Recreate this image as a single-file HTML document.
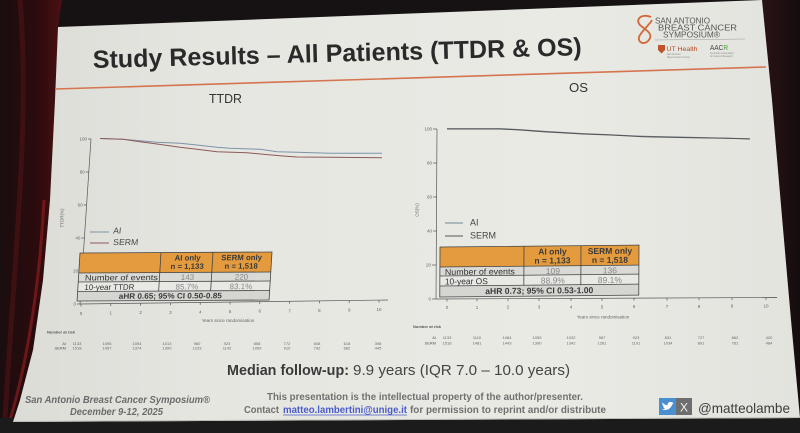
<!DOCTYPE html>
<html><head><meta charset="utf-8"><style>
html,body{margin:0;padding:0;background:#161113;overflow:hidden;width:800px;height:433px}
svg{display:block}
text{font-family:"Liberation Sans",Arial,sans-serif}
</style></head><body>
<svg width="800" height="433" viewBox="0 0 800 433" xmlns="http://www.w3.org/2000/svg">
<defs>
<linearGradient id="sl" x1="0" y1="0" x2="1" y2="0">
<stop offset="0" stop-color="#dcdcd7"/><stop offset="0.25" stop-color="#e6e6e1"/><stop offset="0.7" stop-color="#eaeae5"/><stop offset="1" stop-color="#e3e3de"/></linearGradient>
<linearGradient id="cl" x1="0" y1="0" x2="1" y2="0">
<stop offset="0" stop-color="#1a0d0f"/><stop offset="0.6" stop-color="#2c0b0d"/><stop offset="1" stop-color="#4a1012"/></linearGradient>
<linearGradient id="cr" x1="0" y1="0" x2="1" y2="0">
<stop offset="0" stop-color="#2a1214"/><stop offset="1" stop-color="#140d0e"/></linearGradient>
</defs>
<rect width="800" height="433" fill="#161113"/>
<path d="M0,0 L62,0 L58,27 L55,100 L50,200 L43,280 L33,350 L20,400 L13,422 L0,426 Z" fill="url(#cl)"/>
<path d="M20,0 C30,120 15,250 4,433" stroke="#4a1214" stroke-width="5" fill="none" opacity="0.7"/>
<path d="M44,200 C40,280 28,360 10,420" stroke="#8a1c1c" stroke-width="3" fill="none" opacity="0.7"/>
<path d="M762,0 L800,0 L800,419 L791,320 L782,217 L772,100 Z" fill="url(#cr)"/>
<rect x="0" y="418" width="800" height="15" fill="#1c1b1b"/>
<polygon points="58,27 762,0 772,100 782,217 791,320 800,418 13,422 20,400 33,350 43,280 50,200 55,100" fill="url(#sl)"/>
<line x1="13" y1="421.5" x2="800" y2="417.5" stroke="#bdbdb8" stroke-width="1"/>

<!-- Title -->
<text x="93" y="68" font-size="25" font-weight="bold" fill="#2a2a2a" textLength="489" lengthAdjust="spacingAndGlyphs" transform="rotate(-1.5 93 68)">Study Results – All Patients (TTDR &amp; OS)</text>
<line x1="55" y1="89" x2="766" y2="67" stroke="#d4754f" stroke-width="1.6"/>

<!-- Logo -->
<path d="M651,17 C641,13 634,20 641,26 C648,31 654,35 648,41 C643,46 636,41 640,35 C643,30 650,24 652,20" stroke="#d2683a" stroke-width="1.8" fill="none"/>
<text x="655" y="23.5" font-size="8.5" fill="#555" textLength="55" lengthAdjust="spacingAndGlyphs">SAN ANTONIO</text>
<text x="658" y="30.5" font-size="8.5" fill="#555" textLength="79" lengthAdjust="spacingAndGlyphs">BREAST CANCER</text>
<text x="663" y="37.5" font-size="8.5" fill="#555" textLength="57" lengthAdjust="spacingAndGlyphs">SYMPOSIUM®</text>
<line x1="655" y1="40" x2="745" y2="39" stroke="#999" stroke-width="0.6"/>
<path d="M658,45 L665,45 L665,50 L661.5,53.5 L658,50 Z" fill="#c0532a"/>
<text x="666.5" y="51" font-size="6" fill="#b84a25" font-family="Liberation Serif,serif" textLength="31" lengthAdjust="spacingAndGlyphs">UT Health</text>
<text x="667" y="55" font-size="2.5" fill="#888">San Antonio</text>
<text x="667" y="58" font-size="2.5" fill="#888">Mays Cancer Center</text>
<text x="710" y="50" font-size="7" fill="#444" textLength="18" lengthAdjust="spacingAndGlyphs">AAC<tspan fill="#4a9a3a">R</tspan></text>
<text x="710" y="54" font-size="2.5" fill="#888">American Association</text>
<text x="710" y="57" font-size="2.5" fill="#888">for Cancer Research</text>

<!-- Chart titles -->
<text x="209" y="103" font-size="12.5" fill="#333" textLength="33" lengthAdjust="spacingAndGlyphs">TTDR</text>
<text x="569" y="92" font-size="13" fill="#333" textLength="19" lengthAdjust="spacingAndGlyphs">OS</text>

<!-- LEFT CHART -->
<g stroke="#555" stroke-width="0.7" fill="none">
<line x1="91" y1="139" x2="80" y2="304"/>
<line x1="80" y1="304" x2="388" y2="300"/>
<line x1="88" y1="139" x2="91" y2="139"/>
<line x1="85.8" y1="172" x2="88.8" y2="172"/>
<line x1="83.6" y1="205" x2="86.6" y2="205"/>
<line x1="81.4" y1="238" x2="84.4" y2="238"/>
<line x1="79.2" y1="271" x2="82.2" y2="271"/>
<line x1="77" y1="304" x2="80" y2="304"/>
<line x1="81" y1="304" x2="81" y2="306.5"/>
<line x1="110.8" y1="303.6" x2="110.8" y2="306"/>
<line x1="140.6" y1="303.2" x2="140.6" y2="305.7"/>
<line x1="170.4" y1="302.8" x2="170.4" y2="305.3"/>
<line x1="200.2" y1="302.4" x2="200.2" y2="304.9"/>
<line x1="230" y1="302" x2="230" y2="304.5"/>
<line x1="259.8" y1="301.6" x2="259.8" y2="304.1"/>
<line x1="289.6" y1="301.3" x2="289.6" y2="303.8"/>
<line x1="319.4" y1="300.9" x2="319.4" y2="303.4"/>
<line x1="349.2" y1="300.5" x2="349.2" y2="303"/>
<line x1="379" y1="300.1" x2="379" y2="302.6"/>
</g>
<g font-size="4.5" fill="#666" text-anchor="end">
<text x="87" y="140.5">100</text><text x="84.8" y="173.5">80</text><text x="82.6" y="206.5">60</text>
<text x="80.4" y="239.5">40</text><text x="78.2" y="272.5">20</text><text x="76" y="305.5">0</text>
</g>
<g font-size="4.5" fill="#666" text-anchor="middle">
<text x="81" y="315">0</text><text x="110.8" y="314.6">1</text><text x="140.6" y="314.2">2</text>
<text x="170.4" y="313.8">3</text><text x="200.2" y="313.4">4</text><text x="230" y="313">5</text>
<text x="259.8" y="312.6">6</text><text x="289.6" y="312.3">7</text><text x="319.4" y="311.9">8</text>
<text x="349.2" y="311.5">9</text><text x="379" y="311.1">10</text>
<text x="228" y="322">Years since randomisation</text>
<text transform="translate(63.5,218) rotate(-90)">TTDR(%)</text>
</g>
<polyline fill="none" stroke="#7d93a8" stroke-width="1" points="100,138.5 123,139.3 140,140.7 157,142.3 180,143.3 197,145 217,147.3 230,148.3 260,149.3 277,151.7 297,152.3 330,153.3 382,153.3"/>
<polyline fill="none" stroke="#8d5a5a" stroke-width="1" points="100,138.5 123,139.3 140,141.7 157,144 180,147.3 203,150 217,151.7 247,152.7 263,154.3 283,156 297,157 330,157.3 382,157.7"/>
<!-- left legend -->
<line x1="90" y1="232" x2="109" y2="232" stroke="#7d93a8" stroke-width="1"/>
<line x1="90" y1="243" x2="109" y2="243" stroke="#8d5a5a" stroke-width="1"/>
<text x="113" y="233.5" font-size="8.5" fill="#444" transform="skewX(-6) translate(24.5,0)">AI</text>
<text x="113" y="245" font-size="8.5" fill="#444" textLength="25" lengthAdjust="spacingAndGlyphs" transform="skewX(-6) translate(25.7,0)">SERM</text>
<!-- left table -->
<g transform="translate(80,253) rotate(-0.3) skewX(-3.8)">
<rect x="0" y="0" width="192" height="20" fill="#e49b3e"/>
<rect x="0" y="20" width="192" height="9" fill="#d9d9d5"/>
<rect x="0" y="29" width="192" height="9.5" fill="#e8e8e4"/>
<rect x="0" y="38.5" width="192" height="9.5" fill="#d5d5d1"/>
<g stroke="#444" stroke-width="0.8" fill="none">
<rect x="0" y="0" width="192" height="48"/>
<line x1="0" y1="20" x2="192" y2="20"/><line x1="0" y1="29" x2="192" y2="29"/><line x1="0" y1="38.5" x2="192" y2="38.5"/>
<line x1="81" y1="0" x2="81" y2="38.5"/><line x1="133" y1="0" x2="133" y2="38.5"/>
</g>
<g font-size="7.8" fill="#3a3a3a" text-anchor="middle" font-weight="bold">
<text x="108" y="8">AI only</text><text x="108" y="16.5">n = 1,133</text>
<text x="162" y="8">SERM only</text><text x="162" y="16.5">n = 1,518</text>
<text x="93" y="46" textLength="103" lengthAdjust="spacingAndGlyphs">aHR 0.65; 95% CI 0.50-0.85</text>
</g>
<g font-size="8" fill="#333">
<text x="6.5" y="27.5" textLength="73" lengthAdjust="spacingAndGlyphs">Number of events</text>
<text x="6.5" y="37" textLength="50" lengthAdjust="spacingAndGlyphs">10-year TTDR</text>
</g>
<g font-size="8" fill="#888" text-anchor="middle">
<text x="109" y="27.5">143</text><text x="163" y="27.5">220</text>
<text x="109" y="37">85.7%</text><text x="163" y="37">83.1%</text>
</g>
</g>
<!-- left number at risk -->
<g font-size="4" fill="#555">
<text x="47" y="333.5" font-weight="bold">Number at risk</text>
<text x="66" y="345" text-anchor="end">AI</text><text x="66" y="349.5" text-anchor="end">SERM</text>
</g>
<g font-size="4" fill="#666" text-anchor="middle">
<text x="77" y="345">1133</text><text x="107" y="345">1095</text><text x="137" y="345">1054</text><text x="167" y="345">1013</text><text x="197" y="345">980</text><text x="227" y="345">923</text><text x="257" y="345">858</text><text x="287" y="345">772</text><text x="317" y="345">608</text><text x="347" y="345">618</text><text x="378" y="345">398</text>
<text x="77" y="349.5">1518</text><text x="107" y="349.5">1457</text><text x="137" y="349.5">1374</text><text x="167" y="349.5">1300</text><text x="197" y="349.5">1233</text><text x="227" y="349.5">1142</text><text x="257" y="349.5">1059</text><text x="287" y="349.5">910</text><text x="317" y="349.5">792</text><text x="347" y="349.5">682</text><text x="378" y="349.5">445</text>
</g>

<!-- RIGHT CHART -->
<g stroke="#555" stroke-width="0.7" fill="none">
<line x1="437" y1="129" x2="436" y2="299"/>
<line x1="436" y1="299" x2="777" y2="297.5"/>
<line x1="433" y1="129" x2="437" y2="129"/><line x1="433" y1="163" x2="437" y2="163"/>
<line x1="433" y1="197" x2="437" y2="197"/><line x1="433" y1="231" x2="437" y2="231"/>
<line x1="432" y1="265" x2="436" y2="265"/><line x1="432" y1="299" x2="436" y2="299"/>
<line x1="447" y1="299" x2="447" y2="301.5"/><line x1="477" y1="298.8" x2="477" y2="301.3"/>
<line x1="508" y1="298.7" x2="508" y2="301.2"/><line x1="539" y1="298.5" x2="539" y2="301"/>
<line x1="571" y1="298.4" x2="571" y2="300.9"/><line x1="602" y1="298.3" x2="602" y2="300.8"/>
<line x1="634" y1="298.1" x2="634" y2="300.6"/><line x1="667" y1="298" x2="667" y2="300.5"/>
<line x1="699" y1="297.8" x2="699" y2="300.3"/><line x1="732" y1="297.7" x2="732" y2="300.2"/>
<line x1="766" y1="297.5" x2="766" y2="300"/>
</g>
<g font-size="4.5" fill="#666" text-anchor="end">
<text x="432" y="130.5">100</text><text x="432" y="164.5">80</text><text x="432" y="198.5">60</text>
<text x="432" y="232.5">40</text><text x="431" y="266.5">20</text><text x="431" y="300.5">0</text>
</g>
<g font-size="4.5" fill="#666" text-anchor="middle">
<text x="447" y="309">0</text><text x="477" y="308.8">1</text><text x="508" y="308.7">2</text>
<text x="539" y="308.5">3</text><text x="571" y="308.4">4</text><text x="602" y="308.3">5</text>
<text x="634" y="308.1">6</text><text x="667" y="308">7</text><text x="699" y="307.8">8</text>
<text x="732" y="307.7">9</text><text x="766" y="307.5">10</text>
<text x="603" y="318.5">Years since randomisation</text>
<text transform="translate(418.5,210) rotate(-90)">OS(%)</text>
</g>
<polyline fill="none" stroke="#6d7c88" stroke-width="1" points="447,128.6 500,128.6 520,129.6 543,131.2 583,133.6 610,134.7 630,135.8 643,136.3 693,137.4 727,138.2 750,138.8"/>
<polyline fill="none" stroke="#555" stroke-width="1" points="447,129 500,129 520,130 543,131.7 583,134 610,135 630,136 643,136.7 693,137.7 727,138.3 750,139"/>
<!-- right legend -->
<line x1="445" y1="223" x2="463" y2="223" stroke="#6d8a99" stroke-width="1"/>
<line x1="445" y1="236" x2="463" y2="236" stroke="#555" stroke-width="1"/>
<text x="470" y="225.5" font-size="9" fill="#444">AI</text>
<text x="470" y="238.5" font-size="9" fill="#444" textLength="26" lengthAdjust="spacingAndGlyphs">SERM</text>
<!-- right table -->
<g transform="translate(440,247) rotate(-0.55) skewX(-0.8)">
<rect x="0" y="0" width="199" height="20" fill="#e49b3e"/>
<rect x="0" y="20" width="199" height="9" fill="#d9d9d5"/>
<rect x="0" y="29" width="199" height="10" fill="#e8e8e4"/>
<rect x="0" y="39" width="199" height="11" fill="#d5d5d1"/>
<g stroke="#444" stroke-width="0.8" fill="none">
<rect x="0" y="0" width="199" height="50"/>
<line x1="0" y1="20" x2="199" y2="20"/><line x1="0" y1="29" x2="199" y2="29"/><line x1="0" y1="39" x2="199" y2="39"/>
<line x1="84" y1="0" x2="84" y2="39"/><line x1="141" y1="0" x2="141" y2="39"/>
</g>
<g font-size="8.5" fill="#3a3a3a" text-anchor="middle" font-weight="bold">
<text x="112.5" y="8.5">AI only</text><text x="112.5" y="17.5">n = 1,133</text>
<text x="170" y="8.5">SERM only</text><text x="170" y="17.5">n = 1,518</text>
<text x="99.5" y="47.5" textLength="108" lengthAdjust="spacingAndGlyphs">aHR 0.73; 95% CI 0.53-1.00</text>
</g>
<g font-size="8.5" fill="#333">
<text x="5" y="28" textLength="70" lengthAdjust="spacingAndGlyphs">Number of events</text>
<text x="5" y="37.5" textLength="43" lengthAdjust="spacingAndGlyphs">10-year OS</text>
</g>
<g font-size="8.5" fill="#888" text-anchor="middle">
<text x="113" y="28">109</text><text x="170" y="28">136</text>
<text x="113" y="37.5">88.9%</text><text x="170" y="37.5">89.1%</text>
</g>
</g>
<!-- right number at risk -->
<g font-size="4" fill="#555">
<text x="413" y="328" font-weight="bold">Number at risk</text>
<text x="436" y="339" text-anchor="end">AI</text><text x="436" y="344.5" text-anchor="end">SERM</text>
</g>
<g font-size="4" fill="#666" text-anchor="middle">
<text x="447" y="339">1133</text><text x="477" y="339">1110</text><text x="507" y="339">1084</text><text x="537" y="339">1055</text><text x="571" y="339">1032</text><text x="602" y="339">987</text><text x="636" y="339">923</text><text x="668" y="339">831</text><text x="701" y="339">727</text><text x="735" y="339">662</text><text x="769" y="339">420</text>
<text x="447" y="344.5">1518</text><text x="477" y="344.5">1481</text><text x="507" y="344.5">1443</text><text x="537" y="344.5">1390</text><text x="571" y="344.5">1342</text><text x="602" y="344.5">1281</text><text x="636" y="344.5">1191</text><text x="668" y="344.5">1034</text><text x="701" y="344.5">891</text><text x="735" y="344.5">761</text><text x="769" y="344.5">484</text>
</g>

<!-- Median follow-up -->
<text x="227" y="375" font-size="15" font-weight="bold" fill="#3a3a3a" textLength="122" lengthAdjust="spacingAndGlyphs">Median follow-up:</text>
<text x="353" y="375" font-size="15" fill="#444" textLength="217" lengthAdjust="spacingAndGlyphs">9.9 years (IQR 7.0 – 10.0 years)</text>

<!-- Footer -->
<text x="25" y="403" font-size="10" font-weight="bold" font-style="italic" fill="#6b6b6b" textLength="185" lengthAdjust="spacingAndGlyphs">San Antonio Breast Cancer Symposium®</text>
<text x="70" y="415" font-size="10" font-weight="bold" font-style="italic" fill="#6b6b6b" textLength="93" lengthAdjust="spacingAndGlyphs">December 9-12, 2025</text>
<text x="267" y="400" font-size="10" font-weight="bold" fill="#707070" textLength="316" lengthAdjust="spacingAndGlyphs">This presentation is the intellectual property of the author/presenter.</text>
<text x="244" y="413" font-size="10" font-weight="bold" fill="#707070" textLength="35" lengthAdjust="spacingAndGlyphs">Contact</text>
<text x="283" y="413" font-size="10" font-weight="bold" fill="#4a5ccc" textLength="124" lengthAdjust="spacingAndGlyphs">matteo.lambertini@unige.it</text>
<line x1="283" y1="415" x2="407" y2="415" stroke="#4a5ccc" stroke-width="0.8"/>
<text x="410" y="413" font-size="10" font-weight="bold" fill="#707070" textLength="196" lengthAdjust="spacingAndGlyphs">for permission to reprint and/or distribute</text>
<rect x="659" y="398" width="17" height="17" fill="#4a90d0"/>
<path d="M662,409 C665,411 670,410 672,405 L673.5,403 L672,403.3 L673,402 C671.5,402.3 670.5,401.5 669,402.2 C667.5,403 667.5,404.5 667.8,405.3 C665.5,405.2 663.5,404 662.5,402.5 C662,404.5 663,405.8 664,406.3 L663,406.2 C663.3,407.5 664.2,408 665.2,408.3 C664.2,409 663.2,409.1 662,409 Z" fill="#fff"/>
<rect x="676" y="398" width="16" height="17" fill="#6e6e6e"/>
<text x="684" y="411.5" font-size="12" fill="#f0f0f0" text-anchor="middle">X</text>
<text x="698" y="413" font-size="14" fill="#3c3c3c" textLength="92" lengthAdjust="spacingAndGlyphs">@matteolambe</text>
</svg>
</body></html>
